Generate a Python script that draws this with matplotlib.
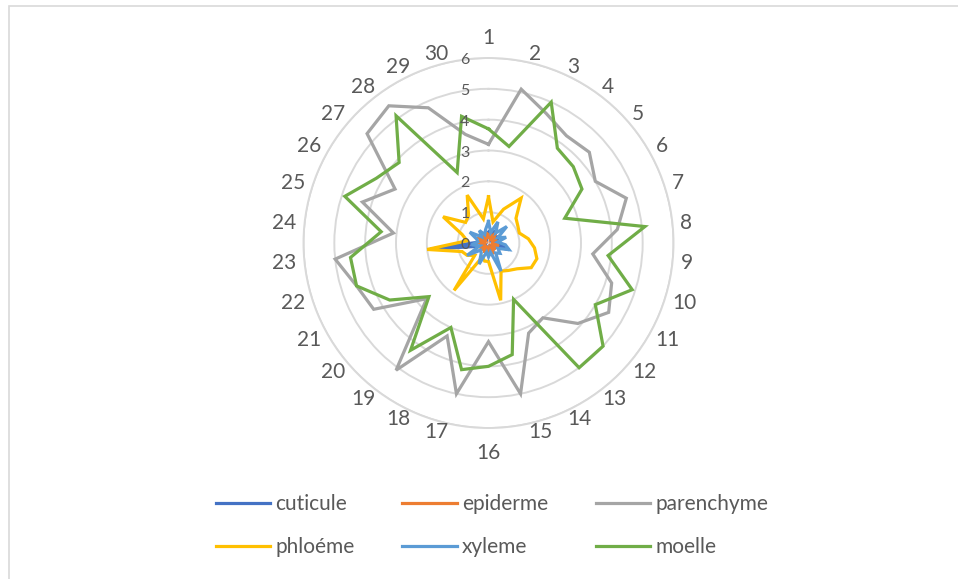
import numpy as np
import matplotlib
matplotlib.use('Agg')
import matplotlib.pyplot as plt
from matplotlib.patches import Rectangle

plt.rcParams['font.family'] = ['Lato', 'DejaVu Sans']

# categories 1..30 around the radar
categories = [str(i) for i in range(1, 31)]
radial_ticks = [0, 1, 2, 3, 4, 5, 6]

cuticule = [0.35, 0.2, 0.45, 0.25, 0.3, 0.15, 0.35, 0.2, 0.3, 0.7,
            0.2, 0.3, 0.15, 0.35, 0.2, 0.3, 0.15, 0.25, 0.2, 0.3,
            0.15, 0.35, 1.9, 0.3, 0.2, 0.35, 0.2, 0.3, 0.15, 0.3]
epiderme = [0.2, 0.35, 0.15, 0.4, 0.2, 0.3, 0.1, 0.4, 0.2, 0.35,
            0.15, 0.3, 0.2, 0.4, 0.15, 0.3, 0.2, 0.35, 0.1, 0.4,
            0.2, 0.3, 0.15, 0.35, 0.2, 0.4, 0.15, 0.3, 0.2, 0.35]
parenchyme = [3.2, 5.1, 4.6, 4.3, 4.4, 4.0, 4.7, 4.2, 3.4, 4.2,
              4.5, 3.9, 3.0, 3.2, 5.0, 3.2, 5.0, 3.3, 5.1, 2.7,
              4.3, 4.5, 5.0, 3.1, 4.3, 3.5, 5.3, 5.5, 4.8, 3.6]
phloeme = [1.5, 0.7, 1.2, 1.8, 1.2, 1.1, 1.05, 1.3, 1.5, 1.65,
           1.6, 1.25, 1.1, 1.0, 1.9, 0.6, 0.6, 0.5, 1.9, 0.6,
           0.8, 0.9, 2.0, 0.7, 0.9, 1.7, 1.0, 1.1, 1.7, 0.8]
xyleme = [0.7, 0.35, 0.75, 0.4, 0.8, 0.35, 0.6, 0.3, 0.55, 0.7,
          0.35, 0.5, 0.4, 1.0, 0.3, 0.45, 0.3, 0.75, 0.4, 0.35,
          0.8, 0.3, 0.55, 0.35, 0.4, 0.7, 0.3, 0.5, 0.3, 0.45]
moelle = [3.7, 3.2, 5.0, 3.8, 3.7, 3.5, 2.6, 5.1, 3.9, 4.9,
          4.0, 5.0, 5.0, 2.0, 3.7, 4.0, 4.2, 3.0, 4.3, 2.6,
          3.7, 4.5, 4.5, 3.5, 4.9, 4.2, 3.9, 5.1, 2.5, 4.2]

series = [('cuticule', cuticule, '#4472C4'),
          ('epiderme', epiderme, '#ED7D31'),
          ('parenchyme', parenchyme, '#A5A5A5'),
          ('phloéme', phloeme, '#FFC000'),
          ('xyleme', xyleme, '#5B9BD5'),
          ('moelle', moelle, '#70AD47')]

text_color = '#595959'
grid_color = '#D9D9D9'

W, H = 958, 579
fig = plt.figure(figsize=(W / 100, H / 100), dpi=100)

# chart area frame (only top and left edges are inside the picture)
fig.patches.append(Rectangle((8.5 / W, -0.1), 1.2, (H - 6.5) / H + 0.1,
                             transform=fig.transFigure, fill=False,
                             edgecolor=grid_color, linewidth=1.2))

# polar axes: centre (488.5, 243) px, radius 185 px
cx, cy, R = 488.5, 243, 185
ax = fig.add_axes([(cx - R) / W, (H - cy - R) / H, 2 * R / W, 2 * R / H],
                  projection='polar')
ax.set_theta_zero_location('N')
ax.set_theta_direction(-1)
ax.set_ylim(0, 6)

angles = np.deg2rad(np.arange(len(categories)) * 360 / len(categories))
closed = np.append(angles, angles[0])

for name, vals, color in series:
    ax.plot(closed, np.append(vals, vals[0]), color=color, linewidth=2.3,
            label=name, solid_joinstyle='miter')

ax.set_yticks(radial_ticks[1:])
ax.set_yticklabels([])
ax.set_xticks([])
ax.yaxis.grid(True, color=grid_color, linewidth=1.4)
ax.xaxis.grid(False)
ax.spines['polar'].set_color(grid_color)
ax.spines['polar'].set_linewidth(1.4)
ax.set_facecolor('none')

# radial value labels, left of the vertical axis
for v in radial_ticks:
    ax.annotate(str(v), xy=(0, v), xytext=(-17, -1.5),
                textcoords='offset points', ha='center', va='center',
                fontsize=11.5, color=text_color)

# category labels
unit = R / 6
for ang, lab in zip(angles, categories):
    s, c = np.sin(ang), np.cos(ang)
    if abs(s) < 0.1:
        ha = 'center'
        va = 'bottom' if c > 0 else 'top'
        r = (195 if c > 0 else 200) / unit
    else:
        ha = 'left' if s > 0 else 'right'
        va = 'center'
        r = 193 / unit
    ax.text(ang, r, lab, ha=ha, va=va, fontsize=15, color=text_color)

# legend filled row by row (matplotlib fills columns first)
handles, labels = ax.get_legend_handles_labels()
order = [0, 3, 1, 4, 2, 5]
fig.legend([handles[i] for i in order], [labels[i] for i in order],
           ncol=3, loc='center',
           bbox_to_anchor=(492 / W, 1 - 525.5 / H), frameon=False,
           fontsize=15, labelcolor=text_color, handlelength=2.6,
           handletextpad=0.25, columnspacing=2.3, labelspacing=1.1)

fig.savefig('out.png', dpi=100, facecolor='white')
